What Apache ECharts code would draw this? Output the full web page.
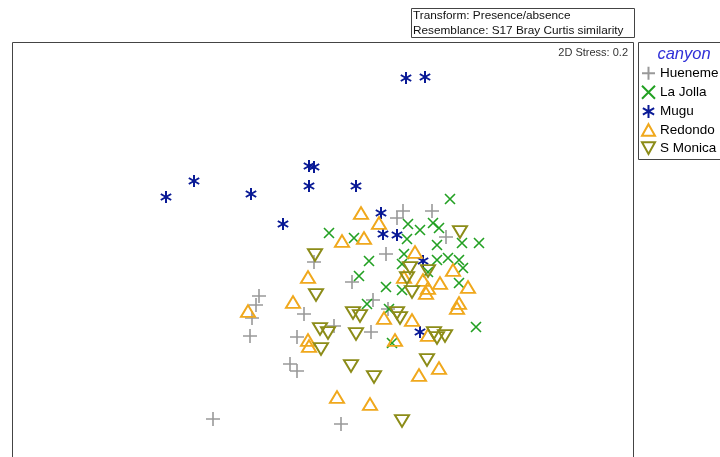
<!DOCTYPE html>
<html><head><meta charset="utf-8">
<script src="https://cdn.jsdelivr.net/npm/echarts@6/dist/echarts.min.js"></script>
<style>html,body{margin:0;padding:0;background:#fff}#c{width:720px;height:457px}</style>
</head><body><div id="c"></div>
<script>
// nMDS ordination coordinates (plot units: x right, y down)
const hueneme = [[403,211],[397,218],[432,211],[446,237],[386,254],[314,262],[352,282],[373,300],[388,309],[304,314],[334,326],[371,332],[297,337],[259,296],[256,305],[252,318],[250,336],[290,364],[297,371],[213,419],[341,424]];
const laJolla = [[450,199],[408,224],[420,230],[433,223],[439,228],[329,233],[354,238],[407,239],[462,243],[479,243],[437,245],[369,261],[404,254],[402,264],[437,260],[448,258],[459,260],[463,268],[428,272],[359,276],[386,287],[402,290],[459,283],[367,304],[389,309],[392,343],[476,327]];
const mugu = [[406,78],[425,77],[166,197],[194,181],[251,194],[309,166],[314,167],[309,186],[356,186],[283,224],[381,213],[383,234],[397,235],[423,261],[420,332]];
const redondo = [[361,213],[379,223],[364,238],[342,241],[415,252],[453,270],[308,277],[404,277],[423,280],[428,288],[426,293],[440,283],[468,287],[293,302],[459,303],[457,308],[384,318],[412,320],[248,311],[308,340],[309,346],[395,340],[428,335],[337,397],[370,404],[419,375],[439,368]];
const sMonica = [[460,232],[315,255],[410,268],[428,271],[407,278],[316,295],[412,292],[353,313],[360,316],[397,313],[400,318],[320,329],[328,333],[321,349],[356,334],[351,366],[374,377],[402,421],[427,360],[434,333],[437,338],[445,336]];
const seriesNames = ['Hueneme','La Jolla','Mugu','Redondo','S Monica'];

const PLUS = 'path://M0,5L10,5M5,0L5,10';
const CROSS = 'path://M0,0L10,10M0,10L10,0';
const STAR = 'path://M5,0L5,10M0.67,2.5L9.33,7.5M0.67,7.5L9.33,2.5';
const TRI = 'path://M5,0L10,9L0,9Z';
const ITRI = 'path://M0,0L10,0L5,9Z';

function mk(name, data, symbol, size, color, bw){
  return {
    name, type:'scatter', data, symbol, symbolSize:size, symbolKeepAspect:true,
    itemStyle:{color:'rgba(0,0,0,0)', borderColor:color, borderWidth:bw, opacity:1},
    emphasis:{disabled:true}, silent:true, z:2
  };
}
const FF = 'Liberation Sans, Arial, sans-serif';
const chart = echarts.init(document.getElementById('c'), null, {renderer:'canvas'});
chart.setOption({
  animation:false,
  backgroundColor:'#fff',
  textStyle:{fontFamily:FF},
  grid:{left:12, top:42, right:86, bottom:0, show:false},
  xAxis:{type:'value', min:12, max:634, show:false},
  yAxis:{type:'value', min:42, max:457, inverse:true, show:false},
  legend:{
    orient:'vertical', left:641, top:65.7, padding:0, itemGap:4.1, itemWidth:13, itemHeight:13,
    data:seriesNames, selectedMode:false,
    textStyle:{fontSize:13.5, color:'#000', fontFamily:FF}
  },
  series:[
    mk('Hueneme', hueneme, PLUS, [14,14], '#999999', 1.6),
    mk('La Jolla', laJolla, CROSS, [10,10], '#22a022', 1.6),
    mk('Mugu', mugu, STAR, [12,12], '#0a1a96', 2),
    mk('Redondo', redondo, TRI, [14,13], '#f0a81c', 2),
    mk('S Monica', sMonica, ITRI, [14,13], '#8c8c18', 2)
  ],
  graphic:[
    {type:'polyline', shape:{points:[[12.5,460],[12.5,42.5],[633.5,42.5],[633.5,460]]}, style:{fill:'none', stroke:'#444', lineWidth:1}, silent:true, z:0},
    {type:'rect', shape:{x:411.5, y:8.5, width:223, height:29}, style:{fill:'#fff', stroke:'#444', lineWidth:1}, silent:true},
    {type:'text', x:413, y:10, style:{text:'Transform: Presence/absence', fontSize:11.8, fill:'#111', fontFamily:FF}, silent:true},
    {type:'text', x:413, y:25, style:{text:'Resemblance: S17 Bray Curtis similarity', fontSize:11.8, fill:'#111', fontFamily:FF}, silent:true},
    {type:'text', x:628, y:47, style:{text:'2D Stress: 0.2', fontSize:11, fill:'#333', align:'right', fontFamily:FF}, silent:true},
    {type:'rect', shape:{x:638.5, y:42.5, width:100, height:117}, style:{fill:'none', stroke:'#444', lineWidth:1}, silent:true},
    {type:'text', x:684, y:46, style:{text:'canyon', fontSize:16.5, fontStyle:'italic', fill:'#3030d8', align:'center', fontFamily:FF}, silent:true}
  ]
});
</script></body></html>
